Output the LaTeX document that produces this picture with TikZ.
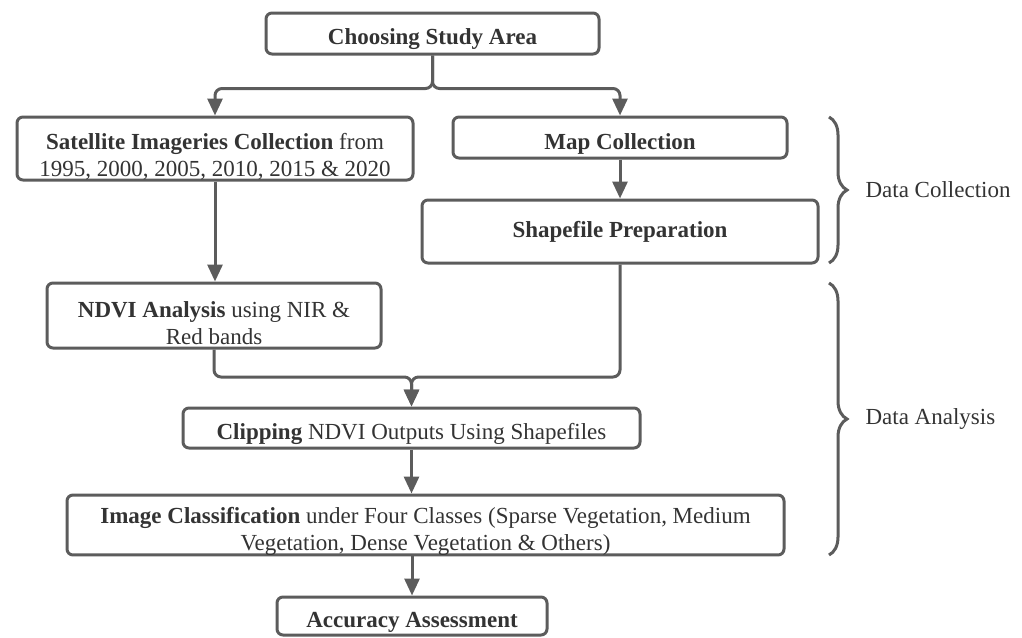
\documentclass[tikz,border=0pt]{standalone}
\usepackage{fontspec}
\setmainfont{Liberation Serif}
\usepackage{xcolor}
\usepackage{tikz}
\usetikzlibrary{arrows.meta,decorations.pathreplacing}

\definecolor{edge}{HTML}{5C5C5C}
\definecolor{ink}{HTML}{333333}
\newcommand{\topgap}[1]{\rule{0pt}{#1}}

\begin{document}
\begin{tikzpicture}[x=1pt,y=-1pt,
    box/.style={draw=edge,line width=3pt,rounded corners=6pt,align=center,
        inner sep=0pt,text=ink,font=\fontsize{23}{27}\selectfont},
    low/.style={box,execute at begin node={\rule{0pt}{28pt}},
        execute at end node={\rule[-4pt]{0pt}{0pt}}},
    line/.style={draw=edge,line width=3pt,rounded corners=7pt},
    arr/.style={line,-{Triangle[length=17pt,width=15pt]}},
    bracket/.style={draw=edge,line width=3pt,
        decorate,decoration={brace,amplitude=18pt}},
    side/.style={text=ink,font=\fontsize{23}{27}\selectfont,anchor=west}]
    \useasboundingbox (0,0) rectangle (1022,637);
    % boxes
    \node[low,minimum width=333pt,minimum height=41pt] (choose) at (432.5,33.5) {\textbf{Choosing Study Area}};
    \node[low,minimum width=396pt,minimum height=63pt] (sat) at (215,148.5) {\topgap{32pt}\textbf{Satellite Imageries Collection} from\\1995, 2000, 2005, 2010, 2015 \& 2020};
    \node[low,minimum width=334pt,minimum height=41pt] (map) at (620,137.5) {\textbf{Map Collection}};
    \node[box,minimum width=396pt,minimum height=63pt] (shp) at (620,231.5) {\textbf{Shapefile Preparation}};
    \node[low,minimum width=334pt,minimum height=63pt] (ndvi) at (214,315.5) {\topgap{34pt}\textbf{NDVI Analysis} using NIR \&\\Red bands};
    \node[low,minimum width=457pt,minimum height=40pt] (clip) at (411.5,428) {\textbf{Clipping} NDVI Outputs Using Shapefiles};
    \node[low,minimum width=717pt,minimum height=56pt] (cls) at (425.5,525) {\topgap{28pt}\textbf{Image Classification} under Four Classes (Sparse Vegetation, Medium\\Vegetation, Dense Vegetation \& Others)};
    \node[low,minimum width=270pt,minimum height=38pt] (acc) at (412,616) {\textbf{Accuracy Assessment}};
    % connectors
    \draw[arr] (choose.south) -- ++(0,33) -| (sat.north);
    \draw[arr] (choose.south) -- ++(0,33) -| (map.north);
    \draw[arr] (sat.south) -- (sat.south |- ndvi.north);
    \draw[arr] (map.south) -- (shp.north);
    \coordinate (join) at (clip.north |- 0,377);
    \draw[arr] (ndvi.south) |- (join) -- (clip.north);
    \draw[arr] (shp.south) |- (join) -- (clip.north);
    \draw[arr] (clip.south) -- (clip.south |- cls.north);
    \draw[arr] (acc.north |- cls.south) -- (acc.north);
    % braces
    \draw[bracket] (829,117) -- (829,263);
    \draw[bracket] (829,283) -- (829,555);
    \node[side] (dc) at (862,190) {Data Collection};
    \node[side] (da) at (862,419) {Data Analysis};
\end{tikzpicture}
\end{document}
